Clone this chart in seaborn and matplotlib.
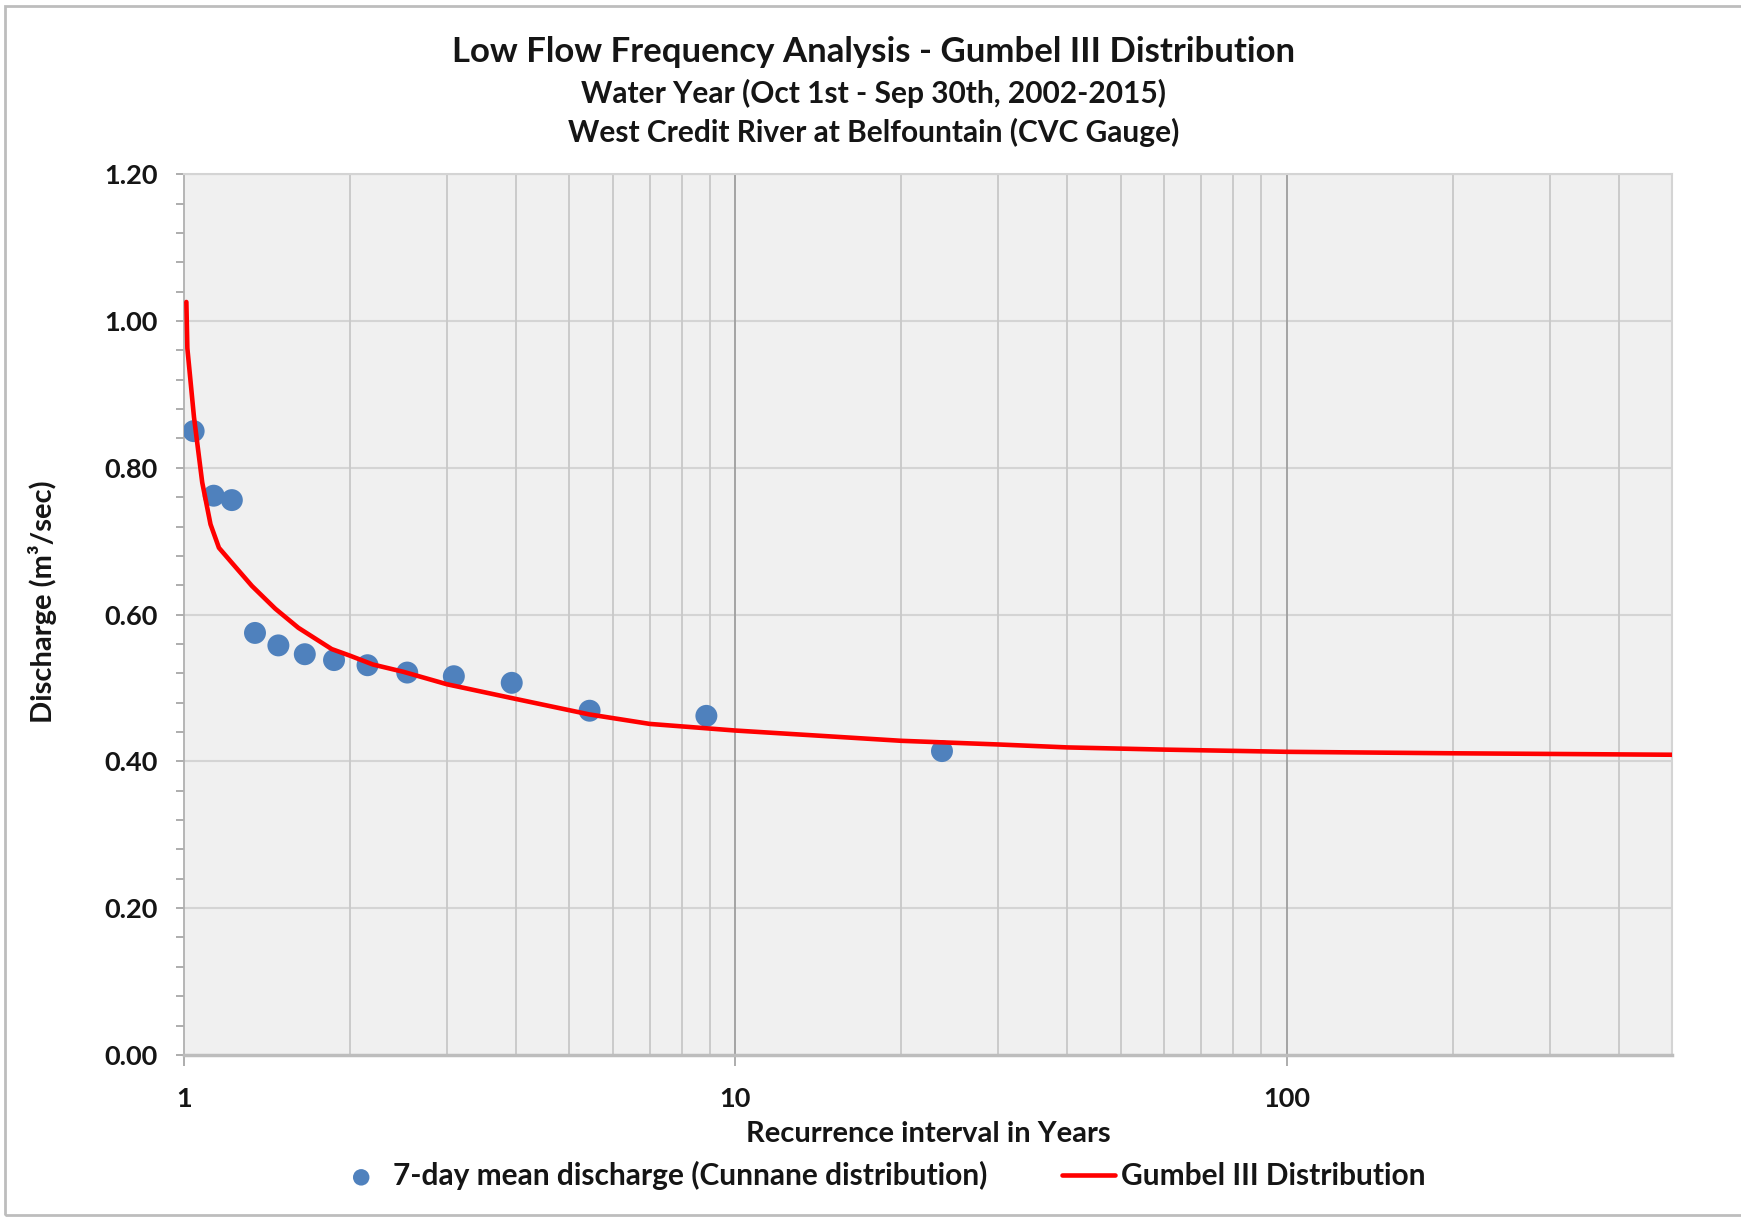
import numpy as np
import pandas as pd
import matplotlib
matplotlib.use("Agg")
import matplotlib.pyplot as plt
import seaborn as sns
from matplotlib.ticker import FixedLocator, NullFormatter, FuncFormatter, MultipleLocator
from matplotlib.patches import Rectangle

# ---- data ----
obs_T = [1.041, 1.132, 1.221, 1.345, 1.483, 1.656, 1.871, 2.152, 2.54, 3.086,
         3.93, 5.44, 8.86, 23.7]
obs_Q = [0.850, 0.762, 0.756, 0.575, 0.558, 0.546, 0.538, 0.531, 0.521, 0.516,
         0.507, 0.469, 0.462, 0.414]

fit_T = [1.0098, 1.014, 1.0425, 1.079, 1.117, 1.157, 1.223, 1.328, 1.464, 1.612,
         1.853, 2.0, 2.2, 2.5, 3.0, 4.0, 5.43, 7.0, 10.0, 20.0, 30.0, 40.0, 60.0,
         100.0, 200.0, 500.0]
fit_Q = [1.026, 0.963, 0.869, 0.780, 0.723, 0.691, 0.670, 0.639, 0.608, 0.582,
         0.553, 0.544, 0.532, 0.522, 0.505, 0.485, 0.464, 0.451, 0.442, 0.428,
         0.423, 0.419, 0.416, 0.413, 0.411, 0.409]

title_lines = ["Low Flow Frequency Analysis - Gumbel III Distribution",
               "Water Year (Oct 1st - Sep 30th, 2002-2015)",
               "West Credit River at Belfountain (CVC Gauge)"]
x_label = "Recurrence interval in Years"
y_label = "Discharge (m³/sec)"
obs_name = "7-day mean discharge (Cunnane distribution)"
fit_name = "Gumbel III Distribution"
x_major = [1, 10, 100]
x_major_labels = ["1", "10", "100"]
x_minor = [2, 3, 4, 5, 6, 7, 8, 9, 20, 30, 40, 50, 60, 70, 80, 90, 200, 300, 400]
y_ticks = [0.0, 0.2, 0.4, 0.6, 0.8, 1.0, 1.2]

obs_df = pd.DataFrame({"T": obs_T, "Q": obs_Q})
fit_df = pd.DataFrame({"T": fit_T, "Q": fit_Q})

# ---- style ----
sns.set_theme(style="white")
plt.rcParams["font.family"] = ["Lato", "DejaVu Sans"]
plt.rcParams["font.weight"] = "bold"
plt.rcParams["axes.labelweight"] = "bold"
TXT = "#151515"

fig = plt.figure(figsize=(17.41, 12.17), dpi=100)
fig.patch.set_facecolor("white")
ax = fig.add_axes([0.1057, 0.1332, 0.8547, 0.7236])
ax.set_facecolor("#f0f0f0")

sns.scatterplot(data=obs_df, x="T", y="Q", ax=ax, color="#4f81bd", s=250,
                edgecolor="none", linewidth=0, label=obs_name, zorder=3)
sns.lineplot(data=fit_df, x="T", y="Q", ax=ax, color="#ff0000", lw=3.3,
             sort=False, estimator=None, label=fit_name, zorder=4)

ax.set_xscale("log")
ax.set_xlim(1, 500)
ax.set_ylim(0, 1.2)

ax.xaxis.set_major_locator(FixedLocator(x_major))
ax.xaxis.set_major_formatter(FuncFormatter(lambda v, p: x_major_labels[x_major.index(round(v))] if round(v) in x_major else ""))
ax.xaxis.set_minor_locator(FixedLocator(x_minor))
ax.xaxis.set_minor_formatter(NullFormatter())
ax.yaxis.set_major_locator(FixedLocator(y_ticks))
ax.yaxis.set_major_formatter(FuncFormatter(lambda v, p: f"{v:.2f}"))
ax.yaxis.set_minor_locator(MultipleLocator(0.04))

ax.grid(False)
for yv in y_ticks[1:]:
    ax.axhline(yv, color="#d4d4d4", lw=1.5, zorder=0.5)
for xv in x_minor:
    ax.axvline(xv, color="#c8c8c8", lw=1.3, zorder=0.5)
for xv in x_major[1:]:
    ax.axvline(xv, color="#9e9e9e", lw=1.3, zorder=0.6)

for s in ["top", "right"]:
    ax.spines[s].set_color("#d4d4d4")
    ax.spines[s].set_linewidth(1.5)
ax.spines["left"].set_color("#b0b0b0")
ax.spines["left"].set_linewidth(1.3)
ax.spines["bottom"].set_color("#bdbdbd")
ax.spines["bottom"].set_linewidth(2.5)

ax.tick_params(axis="y", which="both", direction="out", left=True, length=6,
               width=1.2, color="#a0a0a0", pad=13, labelsize=19.5, labelcolor=TXT)
ax.tick_params(axis="x", which="major", direction="out", bottom=True, length=8,
               width=1.2, color="#a0a0a0", pad=15, labelsize=19.5, labelcolor=TXT)
ax.tick_params(axis="x", which="minor", bottom=False)

ax.set_xlabel(x_label, fontsize=21, fontweight="bold", color=TXT)
ax.set_ylabel(y_label, fontsize=21, fontweight="bold", color=TXT)
ax.xaxis.set_label_coords(0.5, -0.0897)
ax.xaxis.label.set_va("center")
ax.yaxis.set_label_coords(-0.0954, 0.515)
ax.yaxis.label.set_va("center")

fig.text(0.502, 0.957, title_lines[0], ha="center", va="center", fontsize=25,
         fontweight="bold", color=TXT)
fig.text(0.502, 0.923, title_lines[1], ha="center", va="center", fontsize=21.5,
         fontweight="bold", color=TXT)
fig.text(0.502, 0.891, title_lines[2], ha="center", va="center", fontsize=21.5,
         fontweight="bold", color=TXT)

handles, labels = ax.get_legend_handles_labels()
if ax.get_legend() is not None:
    ax.get_legend().remove()
fig.legend(handles, labels, loc="center", bbox_to_anchor=(0.5055, 0.034), ncol=2,
           frameon=False, fontsize=21.5, handlelength=1.75, handletextpad=0.2,
           columnspacing=2.5, markerscale=0.75, labelcolor=TXT)

fig.add_artist(Rectangle((0.003, 0.0015), 1.2, 0.9935, transform=fig.transFigure,
                         fill=False, ec="#bdbdbd", lw=2))

fig.savefig("out.png", dpi=100, facecolor="white")
